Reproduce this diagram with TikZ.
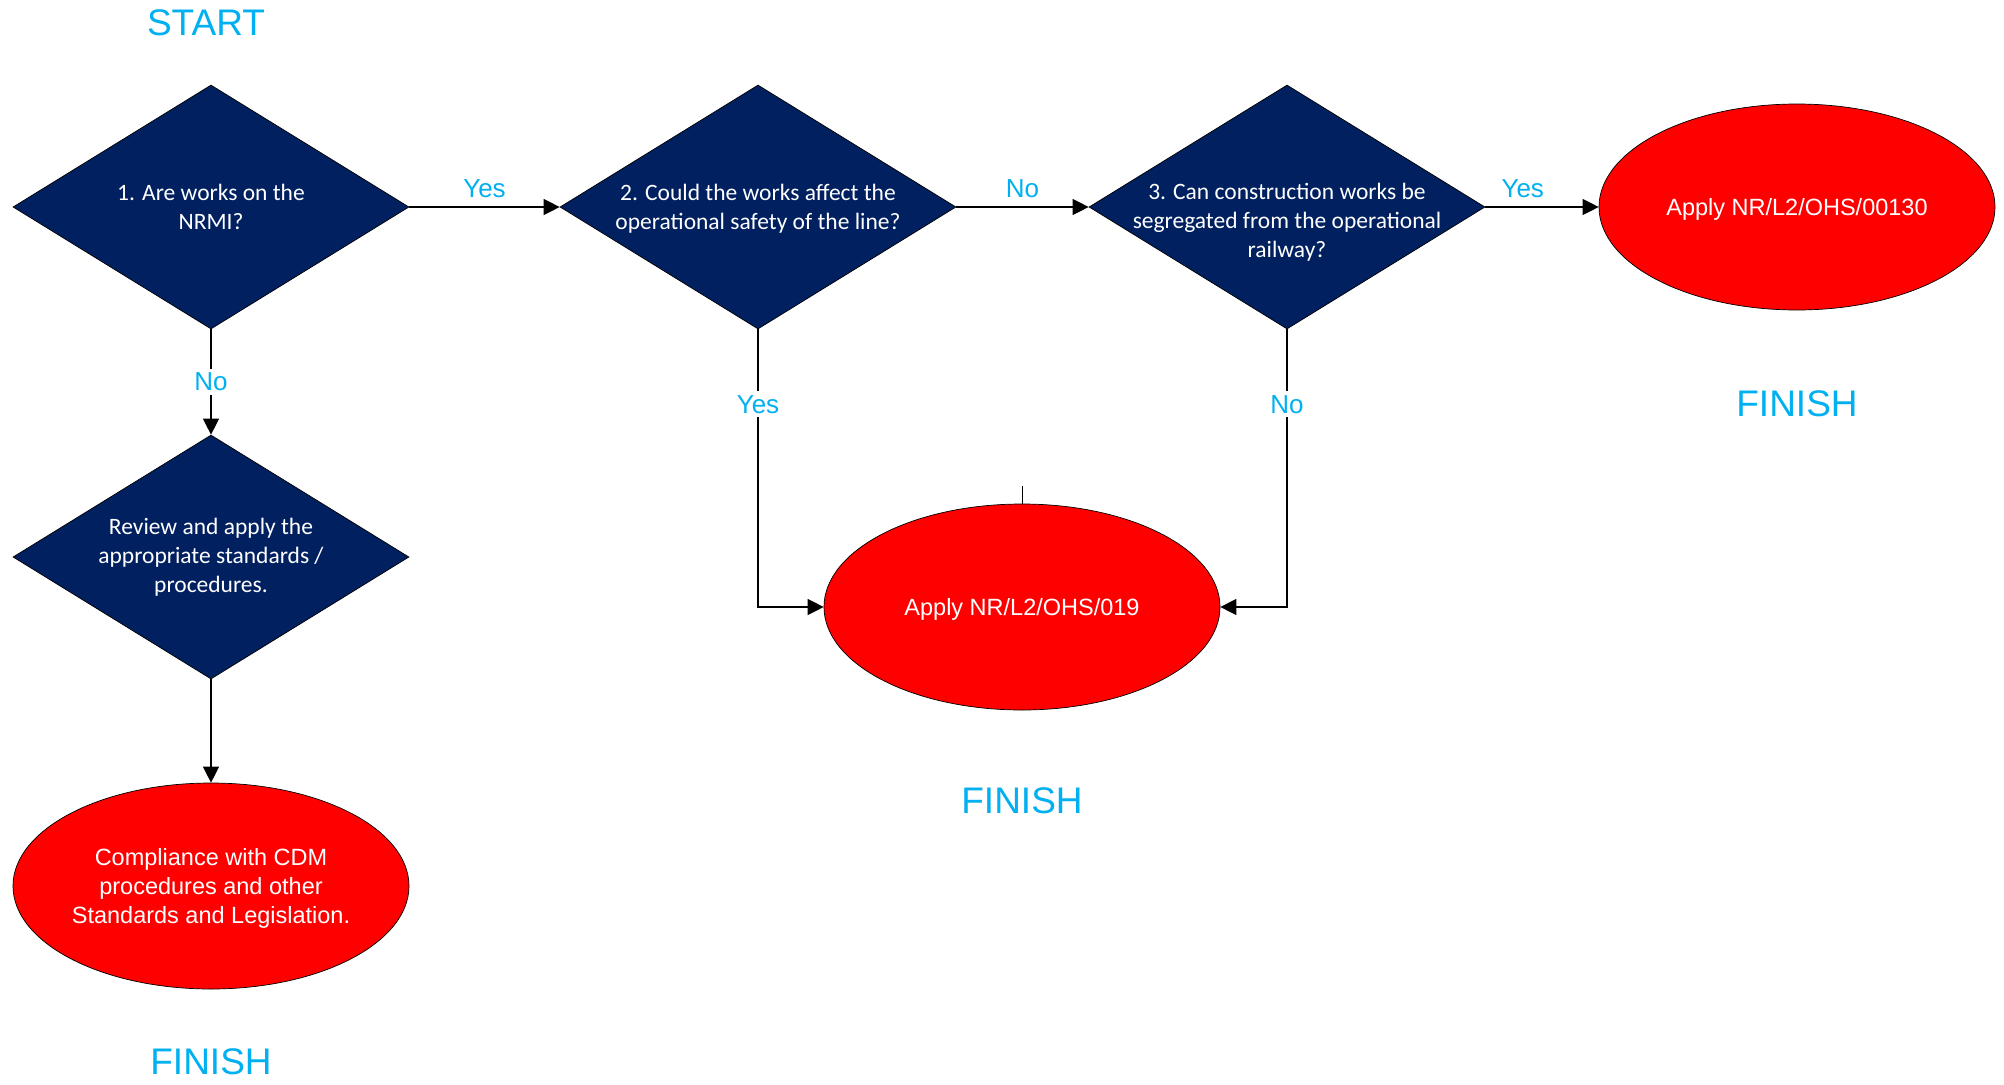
\documentclass[tikz,border=0pt]{standalone}
\usepackage{fontspec}
\setmainfont{Carlito}
\newfontfamily\arialf{Liberation Sans}
\usetikzlibrary{shapes.geometric,arrows.meta}
\definecolor{navy}{HTML}{002060}
\definecolor{lblcyan}{HTML}{00B0F0}
\tikzset{
  dec/.style={diamond, draw=black, line width=0.7pt, fill=navy, text=white,
    minimum width=396pt, minimum height=244pt, shape aspect=1.62, inner sep=0pt,
    align=center, font=\fontsize{23.5}{29}\selectfont},
  endbox/.style={ellipse, draw=black, line width=0.7pt, fill=red, text=white,
    minimum width=396pt, minimum height=206pt, inner sep=0pt, text depth=0pt,
    align=center, font=\arialf\fontsize{23.5}{29}\selectfont},
  conn/.style={line width=1.3pt, -{Triangle[length=16pt,width=16pt]}},
  lbl/.style={text=lblcyan, font=\arialf\fontsize{26}{30}\selectfont, inner sep=2pt},
  vlbl/.style={lbl, fill=white, inner sep=4pt},
  big/.style={text=lblcyan, font=\arialf\fontsize{37}{42}\selectfont}
}
\begin{document}
\begin{tikzpicture}[x=1pt,y=-1pt]
\useasboundingbox[fill=white] (0,0) rectangle (2004,1084);

\node[big] (start) at (206,23) {START};

\node[dec] (d1) at (211,207) {1. Are works on the\\NRMI?};
\node[dec] (d2) at (758,207) {};
\node[text=white, align=center, font=\fontsize{23.5}{29}\selectfont] (d2t) at (758,209)
  {2. Could the works affect the\\operational safety of the line?};
\node[dec] (d3) at (1287,207) {};
\node[text=white, align=center, font=\fontsize{23.5}{29}\selectfont] (d3t) at (1287,222)
  {3. Can construction works be\\segregated from the operational\\railway?};
\node[dec] (d4) at (211,557) {Review and apply the\\appropriate standards /\\procedures.};

\node[endbox] (e1) at (1797,207) {Apply NR/L2/OHS/00130};
\node[endbox] (e2) at (1022,607) {Apply NR/L2/OHS/019};
\node[endbox] (e3) at (211,886) {Compliance with CDM\\procedures and other\\Standards and Legislation.};

\node[big] (f1) at (1797,404) {FINISH};
\node[big] (f2) at (1022,801) {FINISH};
\node[big] (f3) at (211,1062) {FINISH};

\draw[conn] (d1.east) -- node[lbl, above=7pt] {Yes} (d2.west);
\draw[conn] (d2.east) -- node[lbl, above=7pt] {No} (d3.west);
\draw[conn] (d3.east) -- node[lbl, above=7pt, pos=0.33] {Yes} (e1.west);
\draw[conn] (d1.south) -- node[vlbl] {No} (d4.north);
\draw[conn] (d4.south) -- (e3.north);
\draw[conn] (d2.south) -- node[vlbl, pos=0.27] {Yes} (d2.south |- e2.west) -- (e2.west);
\draw[conn] (d3.south) -- node[vlbl, pos=0.27] {No} (d3.south |- e2.east) -- (e2.east);
\coordinate (tick) at (1022,486);
\draw[line width=1pt] (tick) -- (e2.north);
\end{tikzpicture}
\end{document}
